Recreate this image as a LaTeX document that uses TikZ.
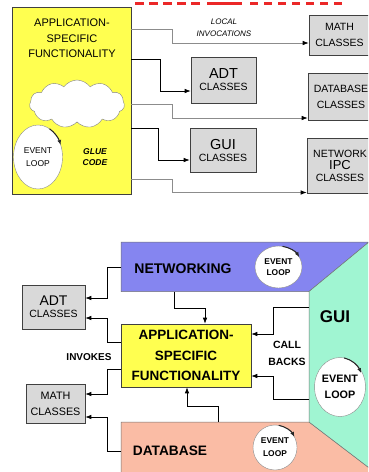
\documentclass[tikz,border=0pt]{standalone}
\usepackage{fontspec}
\setmainfont{Liberation Sans}
\usetikzlibrary{shapes.symbols,shapes.geometric,arrows.meta,calc}
\definecolor{appyellow}{RGB}{255,255,80}
\definecolor{boxgray}{RGB}{217,217,217}
\definecolor{netblue}{RGB}{133,133,240}
\definecolor{guigreen}{RGB}{160,245,210}
\definecolor{dbsalmon}{RGB}{250,188,165}
\definecolor{titlered}{RGB}{235,40,40}
\newcommand{\fsz}[2]{\fontsize{#1}{#2}\selectfont}
\begin{document}
\begin{tikzpicture}[x=1pt,y=-1pt,
  cls/.style={draw=black!75, fill=boxgray, line width=0.6pt, inner sep=0pt, align=center},
  lbl/.style={inner sep=0pt, align=center},
  region/.style={draw=black!55, line width=0.5pt},
  conn/.style={line width=0.7pt, -{Latex[length=6pt,width=4.5pt]}},
  gconn/.style={line width=0.7pt, black!45, -{Latex[length=6pt,width=4.5pt,color=black]}},
  evloop/.style={draw=black!45, fill=white, ellipse, inner sep=0pt, align=center},
  looparr/.style={line width=1pt, black!85, -{Latex[length=5pt,width=4pt]}},
]
\useasboundingbox (0,0) rectangle (368,472);
\clip (0,0) rectangle (368,472);

% cut-off title remnant
\draw[titlered, line width=3pt, dash pattern=on 9pt off 5pt] (135,3) -- (200,3);
\draw[titlered, line width=3pt] (207,3) -- (242,3);
\draw[titlered, line width=3pt, dash pattern=on 8pt off 6pt] (250,3) -- (347,3);

% ---------------- top diagram ----------------
\node[draw=black!75, fill=appyellow, line width=0.6pt, minimum width=119, minimum height=187, inner sep=0pt] (app1) at (71.5,100.5) {};
\node[lbl, font=\fsz{11}{15.5}] (app1t) at (72,38.5) {APPLICATION-\\SPECIFIC\\FUNCTIONALITY};
\node[cloud, cloud puffs=11, cloud puff arc=110, aspect=2, draw=black!50, fill=white, minimum width=95, minimum height=48, inner sep=0pt] (cloud) at (77,104) {};
\node[evloop, minimum width=49, minimum height=64, font=\fsz{8.5}{13}] (el1) at (38,157) {EVENT\\LOOP};
\draw[looparr] ([shift={(-62:24.5 and 32)}]el1.center) arc[start angle=-62, end angle=-22, x radius=24.5, y radius=32];
\node[lbl, font=\fsz{8.5}{11}\bfseries\itshape] (glue) at (95,157.5) {GLUE\\CODE};
\node[lbl, font=\fsz{8}{12}\itshape] (local) at (224,28) {LOCAL\\INVOCATIONS};

\node[cls, minimum width=61, minimum height=40, font=\fsz{10.5}{16}] (math1) at (339.5,35) {MATH\\CLASSES};
\node[cls, minimum width=65, minimum height=46] (adt1) at (223.5,80) {\fsz{14.5}{16}ADT\\\fsz{10.5}{15.5}CLASSES};
\node[cls, minimum width=66, minimum height=47, font=\fsz{10.5}{16}] (db1) at (341,96.5) {DATABASE\\CLASSES};
\node[cls, minimum width=66, minimum height=44] (gui1) at (223,150) {\fsz{14.5}{16}GUI\\\fsz{10.5}{14.5}CLASSES};
\node[cls, minimum width=66, minimum height=55] (net1) at (340,165.5) {\fsz{10.5}{13}NETWORK\\\fsz{13}{18}IPC\\\fsz{10.5}{16}CLASSES};

\draw[gconn] (app1.east |- 0,29) -| (172,43) -- (math1.west |- 0,43);
\draw[conn] (app1.east |- 0,59) -| (160,91) -- (adt1.west |- 0,91);
\draw[gconn] (app1.east |- 0,104) -| (172,118) -- (db1.west |- 0,118);
\draw[conn] (app1.east |- 0,128) -| (158,160) -- (gui1.west |- 0,160);
\draw[gconn] (app1.east |- 0,179) -| (172,192.5) -- (net1.west |- 0,192.5);

% ---------------- bottom diagram ----------------
\path[region, fill=netblue] (121,242) coordinate (netNW) -- (369,242) -- (309,291.5) -- (121,291.5) coordinate (netSW) -- cycle;
\path[region, fill=dbsalmon] (121,422) coordinate (dbNW) -- (309,422) -- (385,480) -- (121,480) -- cycle;
\path[region, fill=guigreen] (309,291.5) coordinate (guiNW) -- (369,242) -- (400,242) -- (400,480) -- (385,480) -- (309,422) coordinate (guiSW) -- cycle;

\node[lbl, font=\fsz{14}{16}\bfseries] (netlbl) at (183,269) {NETWORKING};
\node[lbl, font=\fsz{13.7}{16}\bfseries] (dblbl) at (170,451) {DATABASE};
\node[lbl, font=\fsz{17}{19}\bfseries] (guilbl) at (335,317) {GUI};

\node[evloop, minimum width=47, minimum height=42, font=\fsz{8.4}{11}\bfseries] (ev2) at (278.5,267) {EVENT\\LOOP};
\draw[looparr] ([shift={(-80:23.5 and 21)}]ev2.center) arc[start angle=-80, end angle=-28, x radius=23.5, y radius=21];
\node[evloop, minimum width=48, minimum height=59, font=\fsz{10.8}{16}\bfseries] (ev3) at (340,387) {EVENT\\LOOP};
\draw[looparr] ([shift={(-80:24 and 29.5)}]ev3.center) arc[start angle=-80, end angle=-28, x radius=24, y radius=29.5];
\node[evloop, minimum width=44, minimum height=45, font=\fsz{8.4}{13}\bfseries] (ev4) at (275,447.5) {EVENT\\LOOP};
\draw[looparr] ([shift={(-80:22 and 22.5)}]ev4.center) arc[start angle=-80, end angle=-28, x radius=22, y radius=22.5];

\node[draw=black!75, fill=appyellow, line width=0.6pt, minimum width=130, minimum height=63, inner sep=0pt, align=center, font=\fsz{13.5}{20.5}\bfseries] (app2) at (186,355.5) {APPLICATION-\\SPECIFIC\\FUNCTIONALITY};
\node[cls, minimum width=63, minimum height=44] (adt2) at (53.5,307) {\fsz{14}{16}ADT\\\fsz{10.5}{16.75}CLASSES};
\node[cls, minimum width=59, minimum height=39, font=\fsz{10.8}{16}] (math2) at (55.5,403.5) {MATH\\CLASSES};

\node[lbl, font=\fsz{10}{12}\bfseries] (invokes) at (89,357) {INVOKES};
\node[lbl, font=\fsz{10.5}{17}\bfseries] (callbacks) at (287,353.5) {CALL\\BACKS};

\draw[conn] (netNW |- 0,267) -| (107,298) -- (adt2.east |- 0,298);
\draw[conn] (app2.west |- 0,342) -| (107,318) -- (adt2.east |- 0,318);
\draw[conn] (app2.west |- 0,369) -| (107,394) -- (math2.east |- 0,394);
\draw[conn] (dbNW |- 0,451) -| (107,417) -- (math2.east |- 0,417);
\draw[conn] (174,0 |- netSW) |- (205,308) -- (205,0 |- app2.north);
\draw[conn] (guiNW |- 0,307) -| (273,334) -- (app2.east |- 0,334);
\draw[conn] (guiNW |- 0,399) -| (273,376) -- (app2.east |- 0,376);
\draw[conn] (218,0 |- dbNW) |- (187,406) -- (187,0 |- app2.south);
\end{tikzpicture}
\end{document}
